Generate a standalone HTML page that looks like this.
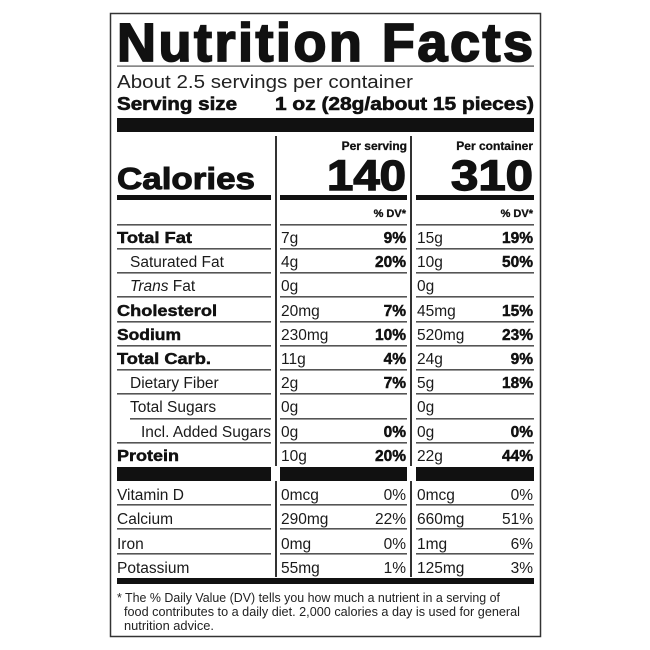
<!DOCTYPE html>
<html><head><meta charset="utf-8"><style>
html,body{margin:0;padding:0;background:#fff;}
svg{display:block;font-family:"Liberation Sans",Arial,sans-serif;}
.r{font-size:15.5px;fill:#1a1a1a;}
.b{font-size:15.5px;font-weight:bold;fill:#111;stroke:#111;stroke-width:0.45;}
</style></head><body>
<svg width="650" height="650" viewBox="0 0 650 650" xmlns="http://www.w3.org/2000/svg">
<rect x="110.5" y="13.5" width="430" height="623" fill="#fff" stroke="#333" stroke-width="1.5"/>
<text x="117" y="61" font-size="54" font-weight="bold" fill="#111" textLength="416" lengthAdjust="spacing" stroke="#111" stroke-width="1.8">Nutrition Facts</text>
<rect x="117" y="65.5" width="417" height="1.2" fill="#555"/>
<text x="117" y="88" font-size="18" fill="#222" textLength="296" lengthAdjust="spacingAndGlyphs">About 2.5 servings per container</text>
<text x="117" y="110" font-size="18" font-weight="bold" fill="#111" stroke="#111" stroke-width="0.6" textLength="120" lengthAdjust="spacingAndGlyphs">Serving size</text>
<text x="534" y="110" font-size="18" font-weight="bold" fill="#111" stroke="#111" stroke-width="0.6" text-anchor="end" textLength="259" lengthAdjust="spacingAndGlyphs">1 oz (28g/about 15 pieces)</text>
<rect x="117" y="118" width="417" height="14" fill="#111"/>
<rect x="275" y="136" width="2" height="330" fill="#333"/>
<rect x="410" y="136" width="2" height="330" fill="#333"/>
<rect x="275" y="481" width="2" height="96" fill="#333"/>
<rect x="410" y="481" width="2" height="96" fill="#333"/>
<text x="407" y="150" font-size="12" font-weight="bold" text-anchor="end" fill="#111" stroke="#111" stroke-width="0.3">Per serving</text>
<text x="533" y="150" font-size="12" font-weight="bold" text-anchor="end" fill="#111" stroke="#111" stroke-width="0.3">Per container</text>
<text x="117" y="189" font-size="31" font-weight="bold" fill="#111" stroke="#111" stroke-width="1" textLength="138" lengthAdjust="spacingAndGlyphs">Calories</text>
<text x="406" y="190" font-size="43" font-weight="bold" text-anchor="end" fill="#111" stroke="#111" stroke-width="1.4" textLength="79" lengthAdjust="spacingAndGlyphs">140</text>
<text x="533" y="190" font-size="43" font-weight="bold" text-anchor="end" fill="#111" stroke="#111" stroke-width="1.4" textLength="82" lengthAdjust="spacingAndGlyphs">310</text>
<rect x="117" y="195" width="154" height="5" fill="#111"/>
<rect x="280" y="195" width="127" height="5" fill="#111"/>
<rect x="416" y="195" width="118" height="5" fill="#111"/>
<text x="406" y="217" font-size="11" font-weight="bold" text-anchor="end" fill="#111" stroke="#111" stroke-width="0.3">% DV*</text>
<text x="533" y="217" font-size="11" font-weight="bold" text-anchor="end" fill="#111" stroke="#111" stroke-width="0.3">% DV*</text>
<g fill="#555">
<rect x="117" y="224" width="154" height="1.6"/><rect x="280" y="224" width="127" height="1.6"/><rect x="416" y="224" width="118" height="1.6"/>
<rect x="117" y="248" width="154" height="1.6"/><rect x="280" y="248" width="127" height="1.6"/><rect x="416" y="248" width="118" height="1.6"/>
<rect x="117" y="272" width="154" height="1.6"/><rect x="280" y="272" width="127" height="1.6"/><rect x="416" y="272" width="118" height="1.6"/>
<rect x="117" y="296" width="154" height="1.6"/><rect x="280" y="296" width="127" height="1.6"/><rect x="416" y="296" width="118" height="1.6"/>
<rect x="117" y="321" width="154" height="1.6"/><rect x="280" y="321" width="127" height="1.6"/><rect x="416" y="321" width="118" height="1.6"/>
<rect x="117" y="345" width="154" height="1.6"/><rect x="280" y="345" width="127" height="1.6"/><rect x="416" y="345" width="118" height="1.6"/>
<rect x="117" y="369" width="154" height="1.6"/><rect x="280" y="369" width="127" height="1.6"/><rect x="416" y="369" width="118" height="1.6"/>
<rect x="117" y="393" width="154" height="1.6"/><rect x="280" y="393" width="127" height="1.6"/><rect x="416" y="393" width="118" height="1.6"/>
<rect x="130" y="418" width="141" height="1.6"/><rect x="280" y="418" width="127" height="1.6"/><rect x="416" y="418" width="118" height="1.6"/>
<rect x="117" y="442" width="154" height="1.6"/><rect x="280" y="442" width="127" height="1.6"/><rect x="416" y="442" width="118" height="1.6"/>
<rect x="117" y="504" width="154" height="1.6"/><rect x="280" y="504" width="127" height="1.6"/><rect x="416" y="504" width="118" height="1.6"/>
<rect x="117" y="528" width="154" height="1.6"/><rect x="280" y="528" width="127" height="1.6"/><rect x="416" y="528" width="118" height="1.6"/>
<rect x="117" y="553" width="154" height="1.6"/><rect x="280" y="553" width="127" height="1.6"/><rect x="416" y="553" width="118" height="1.6"/>
</g>
<rect x="117" y="467" width="154" height="14" fill="#111"/>
<rect x="280" y="467" width="127" height="14" fill="#111"/>
<rect x="416" y="467" width="118" height="14" fill="#111"/>
<rect x="117" y="578" width="417" height="6" fill="#111"/>
<g>
<text class="b" x="117" y="243" textLength="75" lengthAdjust="spacingAndGlyphs">Total Fat</text><text class="r" x="281" y="243">7g</text><text class="b" x="406" y="243" text-anchor="end">9%</text><text class="r" x="417" y="243">15g</text><text class="b" x="533" y="243" text-anchor="end">19%</text>
<text class="r" x="130" y="267">Saturated Fat</text><text class="r" x="281" y="267">4g</text><text class="b" x="406" y="267" text-anchor="end">20%</text><text class="r" x="417" y="267">10g</text><text class="b" x="533" y="267" text-anchor="end">50%</text>
<text class="r" x="130" y="291"><tspan font-style="italic">Trans</tspan> Fat</text><text class="r" x="281" y="291">0g</text><text class="r" x="417" y="291">0g</text>
<text class="b" x="117" y="316" textLength="100" lengthAdjust="spacingAndGlyphs">Cholesterol</text><text class="r" x="281" y="316">20mg</text><text class="b" x="406" y="316" text-anchor="end">7%</text><text class="r" x="417" y="316">45mg</text><text class="b" x="533" y="316" text-anchor="end">15%</text>
<text class="b" x="117" y="340" textLength="64" lengthAdjust="spacingAndGlyphs">Sodium</text><text class="r" x="281" y="340">230mg</text><text class="b" x="406" y="340" text-anchor="end">10%</text><text class="r" x="417" y="340">520mg</text><text class="b" x="533" y="340" text-anchor="end">23%</text>
<text class="b" x="117" y="364" textLength="94" lengthAdjust="spacingAndGlyphs">Total Carb.</text><text class="r" x="281" y="364">11g</text><text class="b" x="406" y="364" text-anchor="end">4%</text><text class="r" x="417" y="364">24g</text><text class="b" x="533" y="364" text-anchor="end">9%</text>
<text class="r" x="130" y="388">Dietary Fiber</text><text class="r" x="281" y="388">2g</text><text class="b" x="406" y="388" text-anchor="end">7%</text><text class="r" x="417" y="388">5g</text><text class="b" x="533" y="388" text-anchor="end">18%</text>
<text class="r" x="130" y="412">Total Sugars</text><text class="r" x="281" y="412">0g</text><text class="r" x="417" y="412">0g</text>
<text class="r" x="141" y="437" textLength="130" lengthAdjust="spacingAndGlyphs">Incl. Added Sugars</text><text class="r" x="281" y="437">0g</text><text class="b" x="406" y="437" text-anchor="end">0%</text><text class="r" x="417" y="437">0g</text><text class="b" x="533" y="437" text-anchor="end">0%</text>
<text class="b" x="117" y="461" textLength="62" lengthAdjust="spacingAndGlyphs">Protein</text><text class="r" x="281" y="461">10g</text><text class="b" x="406" y="461" text-anchor="end">20%</text><text class="r" x="417" y="461">22g</text><text class="b" x="533" y="461" text-anchor="end">44%</text>
<text class="r" x="117" y="500">Vitamin D</text><text class="r" x="281" y="500">0mcg</text><text class="r" x="406" y="500" text-anchor="end">0%</text><text class="r" x="417" y="500">0mcg</text><text class="r" x="533" y="500" text-anchor="end">0%</text>
<text class="r" x="117" y="524">Calcium</text><text class="r" x="281" y="524">290mg</text><text class="r" x="406" y="524" text-anchor="end">22%</text><text class="r" x="417" y="524">660mg</text><text class="r" x="533" y="524" text-anchor="end">51%</text>
<text class="r" x="117" y="549">Iron</text><text class="r" x="281" y="549">0mg</text><text class="r" x="406" y="549" text-anchor="end">0%</text><text class="r" x="417" y="549">1mg</text><text class="r" x="533" y="549" text-anchor="end">6%</text>
<text class="r" x="117" y="573">Potassium</text><text class="r" x="281" y="573">55mg</text><text class="r" x="406" y="573" text-anchor="end">1%</text><text class="r" x="417" y="573">125mg</text><text class="r" x="533" y="573" text-anchor="end">3%</text>
</g>
<g font-size="12.5" fill="#222">
<text x="117" y="602" textLength="383" lengthAdjust="spacingAndGlyphs">* The % Daily Value (DV) tells you how much a nutrient in a serving of</text>
<text x="124" y="616" textLength="396" lengthAdjust="spacingAndGlyphs">food contributes to a daily diet. 2,000 calories a day is used for general</text>
<text x="124" y="630" textLength="90" lengthAdjust="spacingAndGlyphs">nutrition advice.</text>
</g>
</svg>
</body></html>
